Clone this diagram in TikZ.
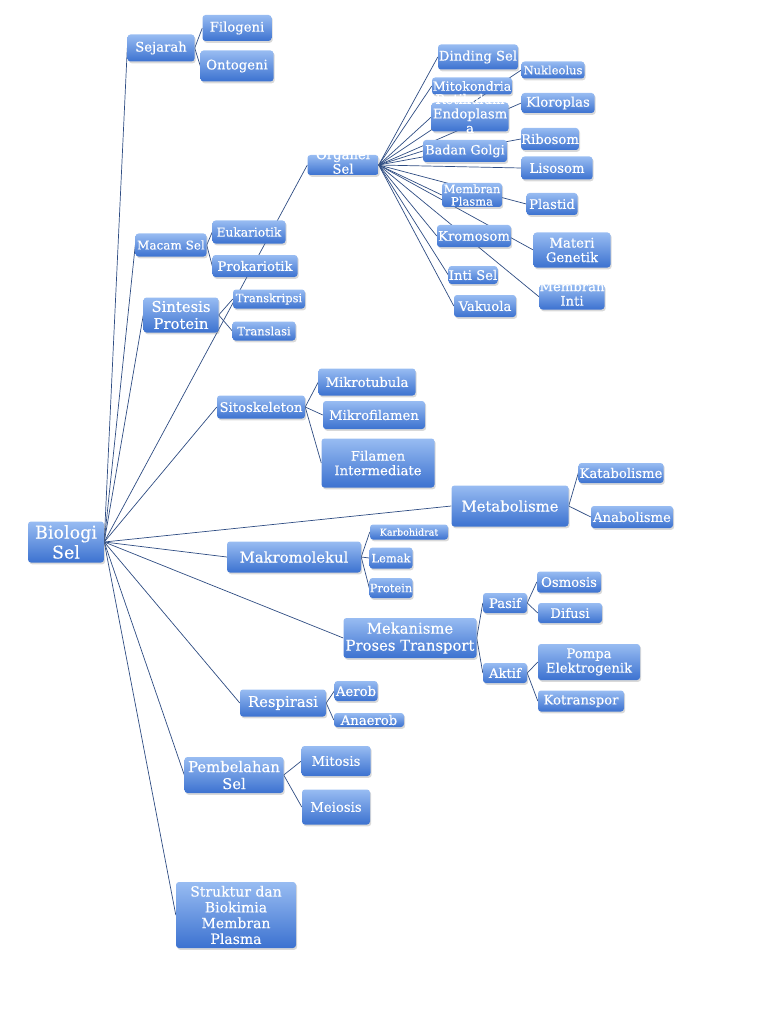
\documentclass[tikz,border=0pt]{standalone}
\usepackage{fontspec}
\setmainfont{DejaVu Serif}[FakeBold=0.35]
\usetikzlibrary{shadows, backgrounds}
\definecolor{boxtop}{RGB}{152,188,242}
\definecolor{boxbot}{RGB}{60,114,208}
\definecolor{linkblue}{RGB}{46,76,130}
\newcommand{\fnorm}{\fontsize{13.2}{14.5}\selectfont}
\newcommand{\fsmall}{\fontsize{11.5}{12.5}\selectfont}
\newcommand{\ftiny}{\fontsize{9.5}{10}\selectfont}
\newcommand{\fmid}{\fontsize{14.8}{17}\selectfont}
\newcommand{\fbig}{\fontsize{17.5}{20}\selectfont}
\newcommand{\overtext}[1]{\raisebox{-3pt}{\smash{\begin{tabular}{@{}c@{}}#1\end{tabular}}}}

\begin{document}
\begin{tikzpicture}[x=1pt, y=-1pt,
  box/.style 2 args={rounded corners=3pt, top color=boxtop, bottom color=boxbot, text=white, align=center, inner sep=0pt, minimum width=#1pt, minimum height=#2pt, font=\fnorm, drop shadow={shadow xshift=1.2pt, shadow yshift=-1.8pt, opacity=0.3}},
  link/.style={draw=linkblue, line width=0.7pt}
]
  \useasboundingbox (0,0) rectangle (768,1024);

  \node[box={76}{41}, font=\fbig] (bio) at (66,542) {Biologi\\Sel};

  \node[box={67}{27}] (sejarah) at (161,48) {Sejarah};
  \node[box={69}{26}] (filogeni) at (237,28) {Filogeni};
  \node[box={73}{31}] (ontogeni) at (237,66) {Ontogeni};

  \node[box={71}{23}, font=\fontsize{12}{13}\selectfont] (macam) at (171,245) {Macam Sel};
  \node[box={73}{23}, font=\fontsize{12.2}{13}\selectfont] (eukariotik) at (249,232) {Eukariotik};
  \node[box={85}{22}] (prokariotik) at (255,266) {Prokariotik};

  \node[box={75}{35}, font=\fmid] (sintesis) at (181,315) {Sintesis\\Protein};
  \node[box={72}{19}, font=\fsmall] (transkripsi) at (269,299) {Transkripsi};
  \node[box={63}{19}, font=\fsmall] (translasi) at (264,331) {Translasi};

  \node[box={71}{20}] (organel) at (343,165) {\overtext{Organel\\Sel}};
  \node[box={80}{25}] (dinding) at (478,57) {Dinding Sel};
  \node[box={63}{17}, font=\fsmall] (nukleolus) at (553,70) {Nukleolus};
  \node[box={80}{17}, font=\fontsize{12.6}{13}\selectfont] (mitokondria) at (472,86) {Mitokondria};
  \node[box={77}{29}] (retikulum) at (470,117) {\overtext{Retikulum\\Endoplasm\\a}};
  \node[box={73}{20}] (kloroplas) at (558,103) {Kloroplas};
  \node[box={56}{22}] (ribosom) at (550,139) {Ribosom};
  \node[box={84}{22}, font=\fontsize{12.8}{13}\selectfont] (golgi) at (465,151) {Badan Golgi};
  \node[box={71}{23}] (lisosom) at (557,168) {Lisosom};
  \node[box={60}{24}, font=\fsmall] (mplasma) at (472,195) {Membran\\Plasma};
  \node[box={51}{22}] (plastid) at (552,204) {Plastid};
  \node[box={74}{22}] (kromosom) at (474,236) {Kromosom};
  \node[box={77}{35}] (materi) at (572,250) {Materi\\Genetik};
  \node[box={49}{18}] (inti) at (473,275) {Inti Sel};
  \node[box={65}{25}] (minti) at (572,297) {\overtext{Membran\\Inti}};
  \node[box={62}{22}] (vakuola) at (485,306) {Vakuola};

  \node[box={88}{23}] (sitoskeleton) at (261,407) {Sitoskeleton};
  \node[box={97}{27}] (mikrotubula) at (367,382) {Mikrotubula};
  \node[box={102}{28}] (mikrofilamen) at (374,415) {Mikrofilamen};
  \node[box={113}{49}] (filamen) at (378,463) {Filamen\\Intermediate};

  \node[box={117}{41}, font=\fmid] (metabolisme) at (510,506) {Metabolisme};
  \node[box={85}{20}] (katabolisme) at (621,473) {Katabolisme};
  \node[box={82}{22}] (anabolisme) at (632,517) {Anabolisme};

  \node[box={134}{31}, font=\fmid] (makro) at (294,557) {Makromolekul};
  \node[box={78}{15}, font=\ftiny] (karbo) at (409,532) {Karbohidrat};
  \node[box={43}{21}, font=\fsmall] (lemak) at (391,558) {Lemak};
  \node[box={43}{20}, font=\fsmall] (protein) at (391,588) {Protein};

  \node[box={133}{40}, font=\fmid] (transport) at (410,638) {Mekanisme\\Proses Transport};
  \node[box={44}{20}] (pasif) at (505,603) {Pasif};
  \node[box={64}{21}] (osmosis) at (569,582) {Osmosis};
  \node[box={64}{20}] (difusi) at (570,613) {Difusi};
  \node[box={44}{20}] (aktif) at (505,673) {Aktif};
  \node[box={102}{36}] (pompa) at (589,662) {Pompa\\Elektrogenik};
  \node[box={86}{21}] (kotranspor) at (581,701) {Kotranspor};

  \node[box={86}{27}, font=\fmid] (respirasi) at (283,703) {Respirasi};
  \node[box={43}{20}] (aerob) at (356,691) {Aerob};
  \node[box={70}{14}] (anaerob) at (369,720) {Anaerob};

  \node[box={99}{36}, font=\fmid] (pembelahan) at (234,775) {Pembelahan\\Sel};
  \node[box={69}{30}] (mitosis) at (336,761) {Mitosis};
  \node[box={68}{35}] (meiosis) at (336,807) {Meiosis};

  \node[box={120}{66}, font=\fontsize{14}{15.8}\selectfont] (struktur) at (236,915) {Struktur dan\\Biokimia\\Membran\\Plasma};

  \begin{pgfonlayer}{background}
    \foreach \n in {sejarah, macam, sintesis, organel, sitoskeleton, metabolisme, makro, transport, respirasi, pembelahan, struktur}
      \draw[link] (bio.east) -- (\n.west);
    \foreach \n in {dinding, nukleolus, mitokondria, retikulum, kloroplas, ribosom, golgi, lisosom, mplasma, plastid, kromosom, materi, inti, minti, vakuola}
      \draw[link] (organel.east) -- (\n.west);
    \foreach \p/\c in {sejarah/filogeni, sejarah/ontogeni, macam/eukariotik, macam/prokariotik, sintesis/transkripsi, sintesis/translasi, sitoskeleton/mikrotubula, sitoskeleton/mikrofilamen, sitoskeleton/filamen, metabolisme/katabolisme, metabolisme/anabolisme, makro/karbo, makro/lemak, makro/protein, transport/pasif, transport/aktif, pasif/osmosis, pasif/difusi, aktif/pompa, aktif/kotranspor, respirasi/aerob, respirasi/anaerob, pembelahan/mitosis, pembelahan/meiosis}
      \draw[link] (\p.east) -- (\c.west);
  \end{pgfonlayer}
\end{tikzpicture}
\end{document}
